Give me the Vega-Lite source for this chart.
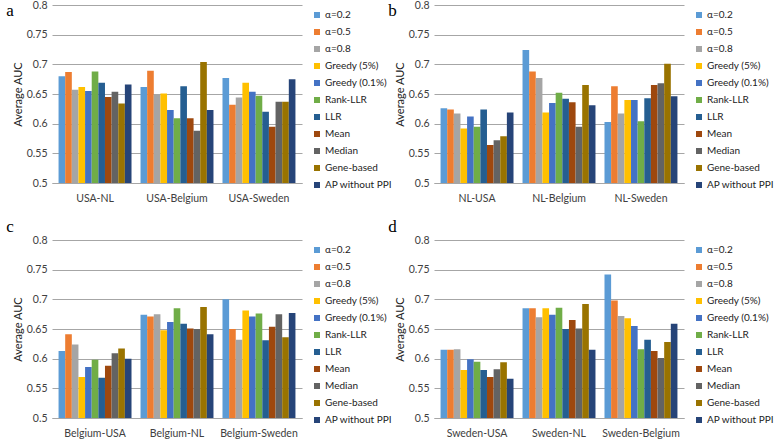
{
  "$schema": "https://vega.github.io/schema/vega-lite/v6.json",
  "padding": {"left": 6, "top": 0, "right": 0, "bottom": 0},
  "background": "white",
  "datasets": {
    "auc": [
      {"p":"a","g":"USA-NL","m":"α=0.2","v":0.680},{"p":"a","g":"USA-NL","m":"α=0.5","v":0.687},{"p":"a","g":"USA-NL","m":"α=0.8","v":0.657},{"p":"a","g":"USA-NL","m":"Greedy (5%)","v":0.662},{"p":"a","g":"USA-NL","m":"Greedy (0.1%)","v":0.655},{"p":"a","g":"USA-NL","m":"Rank-LLR","v":0.688},{"p":"a","g":"USA-NL","m":"LLR","v":0.669},{"p":"a","g":"USA-NL","m":"Mean","v":0.645},{"p":"a","g":"USA-NL","m":"Median","v":0.654},{"p":"a","g":"USA-NL","m":"Gene-based","v":0.634},{"p":"a","g":"USA-NL","m":"AP without PPI","v":0.666},
      {"p":"a","g":"USA-Belgium","m":"α=0.2","v":0.662},{"p":"a","g":"USA-Belgium","m":"α=0.5","v":0.689},{"p":"a","g":"USA-Belgium","m":"α=0.8","v":0.650},{"p":"a","g":"USA-Belgium","m":"Greedy (5%)","v":0.651},{"p":"a","g":"USA-Belgium","m":"Greedy (0.1%)","v":0.623},{"p":"a","g":"USA-Belgium","m":"Rank-LLR","v":0.609},{"p":"a","g":"USA-Belgium","m":"LLR","v":0.663},{"p":"a","g":"USA-Belgium","m":"Mean","v":0.609},{"p":"a","g":"USA-Belgium","m":"Median","v":0.588},{"p":"a","g":"USA-Belgium","m":"Gene-based","v":0.704},{"p":"a","g":"USA-Belgium","m":"AP without PPI","v":0.623},
      {"p":"a","g":"USA-Sweden","m":"α=0.2","v":0.677},{"p":"a","g":"USA-Sweden","m":"α=0.5","v":0.632},{"p":"a","g":"USA-Sweden","m":"α=0.8","v":0.644},{"p":"a","g":"USA-Sweden","m":"Greedy (5%)","v":0.669},{"p":"a","g":"USA-Sweden","m":"Greedy (0.1%)","v":0.654},{"p":"a","g":"USA-Sweden","m":"Rank-LLR","v":0.647},{"p":"a","g":"USA-Sweden","m":"LLR","v":0.620},{"p":"a","g":"USA-Sweden","m":"Mean","v":0.595},{"p":"a","g":"USA-Sweden","m":"Median","v":0.637},{"p":"a","g":"USA-Sweden","m":"Gene-based","v":0.637},{"p":"a","g":"USA-Sweden","m":"AP without PPI","v":0.675},
      {"p":"b","g":"NL-USA","m":"α=0.2","v":0.626},{"p":"b","g":"NL-USA","m":"α=0.5","v":0.624},{"p":"b","g":"NL-USA","m":"α=0.8","v":0.617},{"p":"b","g":"NL-USA","m":"Greedy (5%)","v":0.592},{"p":"b","g":"NL-USA","m":"Greedy (0.1%)","v":0.612},{"p":"b","g":"NL-USA","m":"Rank-LLR","v":0.595},{"p":"b","g":"NL-USA","m":"LLR","v":0.624},{"p":"b","g":"NL-USA","m":"Mean","v":0.564},{"p":"b","g":"NL-USA","m":"Median","v":0.572},{"p":"b","g":"NL-USA","m":"Gene-based","v":0.579},{"p":"b","g":"NL-USA","m":"AP without PPI","v":0.619},
      {"p":"b","g":"NL-Belgium","m":"α=0.2","v":0.724},{"p":"b","g":"NL-Belgium","m":"α=0.5","v":0.688},{"p":"b","g":"NL-Belgium","m":"α=0.8","v":0.677},{"p":"b","g":"NL-Belgium","m":"Greedy (5%)","v":0.619},{"p":"b","g":"NL-Belgium","m":"Greedy (0.1%)","v":0.635},{"p":"b","g":"NL-Belgium","m":"Rank-LLR","v":0.652},{"p":"b","g":"NL-Belgium","m":"LLR","v":0.642},{"p":"b","g":"NL-Belgium","m":"Mean","v":0.636},{"p":"b","g":"NL-Belgium","m":"Median","v":0.595},{"p":"b","g":"NL-Belgium","m":"Gene-based","v":0.665},{"p":"b","g":"NL-Belgium","m":"AP without PPI","v":0.631},
      {"p":"b","g":"NL-Sweden","m":"α=0.2","v":0.603},{"p":"b","g":"NL-Sweden","m":"α=0.5","v":0.663},{"p":"b","g":"NL-Sweden","m":"α=0.8","v":0.617},{"p":"b","g":"NL-Sweden","m":"Greedy (5%)","v":0.640},{"p":"b","g":"NL-Sweden","m":"Greedy (0.1%)","v":0.640},{"p":"b","g":"NL-Sweden","m":"Rank-LLR","v":0.604},{"p":"b","g":"NL-Sweden","m":"LLR","v":0.643},{"p":"b","g":"NL-Sweden","m":"Mean","v":0.665},{"p":"b","g":"NL-Sweden","m":"Median","v":0.668},{"p":"b","g":"NL-Sweden","m":"Gene-based","v":0.701},{"p":"b","g":"NL-Sweden","m":"AP without PPI","v":0.646},
      {"p":"c","g":"Belgium-USA","m":"α=0.2","v":0.613},{"p":"c","g":"Belgium-USA","m":"α=0.5","v":0.641},{"p":"c","g":"Belgium-USA","m":"α=0.8","v":0.624},{"p":"c","g":"Belgium-USA","m":"Greedy (5%)","v":0.569},{"p":"c","g":"Belgium-USA","m":"Greedy (0.1%)","v":0.586},{"p":"c","g":"Belgium-USA","m":"Rank-LLR","v":0.598},{"p":"c","g":"Belgium-USA","m":"LLR","v":0.568},{"p":"c","g":"Belgium-USA","m":"Mean","v":0.588},{"p":"c","g":"Belgium-USA","m":"Median","v":0.609},{"p":"c","g":"Belgium-USA","m":"Gene-based","v":0.617},{"p":"c","g":"Belgium-USA","m":"AP without PPI","v":0.600},
      {"p":"c","g":"Belgium-NL","m":"α=0.2","v":0.674},{"p":"c","g":"Belgium-NL","m":"α=0.5","v":0.671},{"p":"c","g":"Belgium-NL","m":"α=0.8","v":0.675},{"p":"c","g":"Belgium-NL","m":"Greedy (5%)","v":0.648},{"p":"c","g":"Belgium-NL","m":"Greedy (0.1%)","v":0.662},{"p":"c","g":"Belgium-NL","m":"Rank-LLR","v":0.685},{"p":"c","g":"Belgium-NL","m":"LLR","v":0.659},{"p":"c","g":"Belgium-NL","m":"Mean","v":0.651},{"p":"c","g":"Belgium-NL","m":"Median","v":0.650},{"p":"c","g":"Belgium-NL","m":"Gene-based","v":0.687},{"p":"c","g":"Belgium-NL","m":"AP without PPI","v":0.641},
      {"p":"c","g":"Belgium-Sweden","m":"α=0.2","v":0.700},{"p":"c","g":"Belgium-Sweden","m":"α=0.5","v":0.650},{"p":"c","g":"Belgium-Sweden","m":"α=0.8","v":0.632},{"p":"c","g":"Belgium-Sweden","m":"Greedy (5%)","v":0.681},{"p":"c","g":"Belgium-Sweden","m":"Greedy (0.1%)","v":0.671},{"p":"c","g":"Belgium-Sweden","m":"Rank-LLR","v":0.676},{"p":"c","g":"Belgium-Sweden","m":"LLR","v":0.631},{"p":"c","g":"Belgium-Sweden","m":"Mean","v":0.654},{"p":"c","g":"Belgium-Sweden","m":"Median","v":0.675},{"p":"c","g":"Belgium-Sweden","m":"Gene-based","v":0.636},{"p":"c","g":"Belgium-Sweden","m":"AP without PPI","v":0.677},
      {"p":"d","g":"Sweden-USA","m":"α=0.2","v":0.615},{"p":"d","g":"Sweden-USA","m":"α=0.5","v":0.615},{"p":"d","g":"Sweden-USA","m":"α=0.8","v":0.616},{"p":"d","g":"Sweden-USA","m":"Greedy (5%)","v":0.581},{"p":"d","g":"Sweden-USA","m":"Greedy (0.1%)","v":0.599},{"p":"d","g":"Sweden-USA","m":"Rank-LLR","v":0.595},{"p":"d","g":"Sweden-USA","m":"LLR","v":0.581},{"p":"d","g":"Sweden-USA","m":"Mean","v":0.569},{"p":"d","g":"Sweden-USA","m":"Median","v":0.582},{"p":"d","g":"Sweden-USA","m":"Gene-based","v":0.594},{"p":"d","g":"Sweden-USA","m":"AP without PPI","v":0.566},
      {"p":"d","g":"Sweden-NL","m":"α=0.2","v":0.685},{"p":"d","g":"Sweden-NL","m":"α=0.5","v":0.685},{"p":"d","g":"Sweden-NL","m":"α=0.8","v":0.670},{"p":"d","g":"Sweden-NL","m":"Greedy (5%)","v":0.685},{"p":"d","g":"Sweden-NL","m":"Greedy (0.1%)","v":0.674},{"p":"d","g":"Sweden-NL","m":"Rank-LLR","v":0.686},{"p":"d","g":"Sweden-NL","m":"LLR","v":0.650},{"p":"d","g":"Sweden-NL","m":"Mean","v":0.665},{"p":"d","g":"Sweden-NL","m":"Median","v":0.651},{"p":"d","g":"Sweden-NL","m":"Gene-based","v":0.692},{"p":"d","g":"Sweden-NL","m":"AP without PPI","v":0.615},
      {"p":"d","g":"Sweden-Belgium","m":"α=0.2","v":0.742},{"p":"d","g":"Sweden-Belgium","m":"α=0.5","v":0.698},{"p":"d","g":"Sweden-Belgium","m":"α=0.8","v":0.672},{"p":"d","g":"Sweden-Belgium","m":"Greedy (5%)","v":0.668},{"p":"d","g":"Sweden-Belgium","m":"Greedy (0.1%)","v":0.655},{"p":"d","g":"Sweden-Belgium","m":"Rank-LLR","v":0.616},{"p":"d","g":"Sweden-Belgium","m":"LLR","v":0.632},{"p":"d","g":"Sweden-Belgium","m":"Mean","v":0.613},{"p":"d","g":"Sweden-Belgium","m":"Median","v":0.601},{"p":"d","g":"Sweden-Belgium","m":"Gene-based","v":0.628},{"p":"d","g":"Sweden-Belgium","m":"AP without PPI","v":0.659}
    ]
  },
  "data": {"name": "auc"},
  "resolve": {"scale": {"color": "independent", "x": "independent"}, "legend": {"color": "independent"}},
  "spacing": 14,
  "vconcat": [
    {
      "resolve": {"scale": {"color": "independent", "x": "independent"}, "legend": {"color": "independent"}},
      "spacing": -9,
      "hconcat": [
        {
          "width": 250, "height": 178,
          "title": {"text": "a", "anchor": "start", "frame": "bounds", "font": "Liberation Serif", "fontSize": 17, "fontWeight": "normal", "color": "#000", "offset": -20, "dx": -6},
          "transform": [{"filter": "datum.p === 'a'"}],
          "mark": {"type": "bar", "clip": true},
          "encoding": {
            "x": {"field": "g", "type": "nominal", "sort": ["USA-NL", "USA-Belgium", "USA-Sweden"], "scale": {"paddingInner": 0.11, "paddingOuter": 0.08}, "axis": {"title": null}},
            "xOffset": {"field": "m", "type": "nominal", "sort": ["α=0.2","α=0.5","α=0.8","Greedy (5%)","Greedy (0.1%)","Rank-LLR","LLR","Mean","Median","Gene-based","AP without PPI"], "scale": {"paddingInner": 0, "paddingOuter": 0}},
            "y": {"field": "v", "type": "quantitative", "scale": {"domain": [0.5, 0.8], "zero": false}, "axis": {"title": "Average AUC"}},
            "color": {"field": "m", "type": "nominal", "scale": {"domain": ["α=0.2","α=0.5","α=0.8","Greedy (5%)","Greedy (0.1%)","Rank-LLR","LLR","Mean","Median","Gene-based","AP without PPI"], "range": ["#5B9BD5","#ED7D31","#A5A5A5","#FFC000","#4472C4","#70AD47","#255E91","#9E480E","#636363","#997300","#264478"]}}
          }
        },
        {
          "width": 250, "height": 178,
          "title": {"text": "b", "anchor": "start", "frame": "bounds", "font": "Liberation Serif", "fontSize": 17, "fontWeight": "normal", "color": "#000", "offset": -20, "dx": -6},
          "transform": [{"filter": "datum.p === 'b'"}],
          "mark": {"type": "bar", "clip": true},
          "encoding": {
            "x": {"field": "g", "type": "nominal", "sort": ["NL-USA", "NL-Belgium", "NL-Sweden"], "scale": {"paddingInner": 0.11, "paddingOuter": 0.08}, "axis": {"title": null}},
            "xOffset": {"field": "m", "type": "nominal", "sort": ["α=0.2","α=0.5","α=0.8","Greedy (5%)","Greedy (0.1%)","Rank-LLR","LLR","Mean","Median","Gene-based","AP without PPI"], "scale": {"paddingInner": 0, "paddingOuter": 0}},
            "y": {"field": "v", "type": "quantitative", "scale": {"domain": [0.5, 0.8], "zero": false}, "axis": {"title": "Average AUC"}},
            "color": {"field": "m", "type": "nominal", "scale": {"domain": ["α=0.2","α=0.5","α=0.8","Greedy (5%)","Greedy (0.1%)","Rank-LLR","LLR","Mean","Median","Gene-based","AP without PPI"], "range": ["#5B9BD5","#ED7D31","#A5A5A5","#FFC000","#4472C4","#70AD47","#255E91","#9E480E","#636363","#997300","#264478"]}}
          }
        }
      ]
    },
    {
      "resolve": {"scale": {"color": "independent", "x": "independent"}, "legend": {"color": "independent"}},
      "spacing": -9,
      "hconcat": [
        {
          "width": 250, "height": 178,
          "title": {"text": "c", "anchor": "start", "frame": "bounds", "font": "Liberation Serif", "fontSize": 17, "fontWeight": "normal", "color": "#000", "offset": -1, "dx": -6},
          "transform": [{"filter": "datum.p === 'c'"}],
          "mark": {"type": "bar", "clip": true},
          "encoding": {
            "x": {"field": "g", "type": "nominal", "sort": ["Belgium-USA", "Belgium-NL", "Belgium-Sweden"], "scale": {"paddingInner": 0.11, "paddingOuter": 0.08}, "axis": {"title": null}},
            "xOffset": {"field": "m", "type": "nominal", "sort": ["α=0.2","α=0.5","α=0.8","Greedy (5%)","Greedy (0.1%)","Rank-LLR","LLR","Mean","Median","Gene-based","AP without PPI"], "scale": {"paddingInner": 0, "paddingOuter": 0}},
            "y": {"field": "v", "type": "quantitative", "scale": {"domain": [0.5, 0.8], "zero": false}, "axis": {"title": "Average AUC"}},
            "color": {"field": "m", "type": "nominal", "scale": {"domain": ["α=0.2","α=0.5","α=0.8","Greedy (5%)","Greedy (0.1%)","Rank-LLR","LLR","Mean","Median","Gene-based","AP without PPI"], "range": ["#5B9BD5","#ED7D31","#A5A5A5","#FFC000","#4472C4","#70AD47","#255E91","#9E480E","#636363","#997300","#264478"]}}
          }
        },
        {
          "width": 250, "height": 178,
          "title": {"text": "d", "anchor": "start", "frame": "bounds", "font": "Liberation Serif", "fontSize": 17, "fontWeight": "normal", "color": "#000", "offset": -1, "dx": -6},
          "transform": [{"filter": "datum.p === 'd'"}],
          "mark": {"type": "bar", "clip": true},
          "encoding": {
            "x": {"field": "g", "type": "nominal", "sort": ["Sweden-USA", "Sweden-NL", "Sweden-Belgium"], "scale": {"paddingInner": 0.11, "paddingOuter": 0.08}, "axis": {"title": null}},
            "xOffset": {"field": "m", "type": "nominal", "sort": ["α=0.2","α=0.5","α=0.8","Greedy (5%)","Greedy (0.1%)","Rank-LLR","LLR","Mean","Median","Gene-based","AP without PPI"], "scale": {"paddingInner": 0, "paddingOuter": 0}},
            "y": {"field": "v", "type": "quantitative", "scale": {"domain": [0.5, 0.8], "zero": false}, "axis": {"title": "Average AUC"}},
            "color": {"field": "m", "type": "nominal", "scale": {"domain": ["α=0.2","α=0.5","α=0.8","Greedy (5%)","Greedy (0.1%)","Rank-LLR","LLR","Mean","Median","Gene-based","AP without PPI"], "range": ["#5B9BD5","#ED7D31","#A5A5A5","#FFC000","#4472C4","#70AD47","#255E91","#9E480E","#636363","#997300","#264478"]}}
          }
        }
      ]
    }
  ],
  "config": {
    "view": {"stroke": null},
    "font": "Lato",
    "axisX": {"labelAngle": 0, "ticks": false, "domainColor": "#a6a6a6", "labelPadding": 10, "labelFontSize": 10.5, "labelColor": "#404040", "grid": false},
    "axisY": {"values": [0.5, 0.55, 0.6, 0.65, 0.7, 0.75, 0.8], "format": ".2~f", "domain": false, "ticks": false, "gridColor": "#a6a6a6", "gridOpacity": 1, "labelFontSize": 10.5, "labelColor": "#404040", "labelPadding": 5, "titleFontSize": 11, "titleFontWeight": "normal", "titleColor": "#222", "titlePadding": 3},
    "legend": {"title": null, "orient": "right", "offset": 5, "padding": 5, "columns": 1, "symbolType": "square", "symbolSize": 36, "symbolStrokeWidth": 0, "labelFontSize": 10, "labelColor": "#222", "rowPadding": 7, "labelOffset": 3, "labelLimit": 75}
  }
}
